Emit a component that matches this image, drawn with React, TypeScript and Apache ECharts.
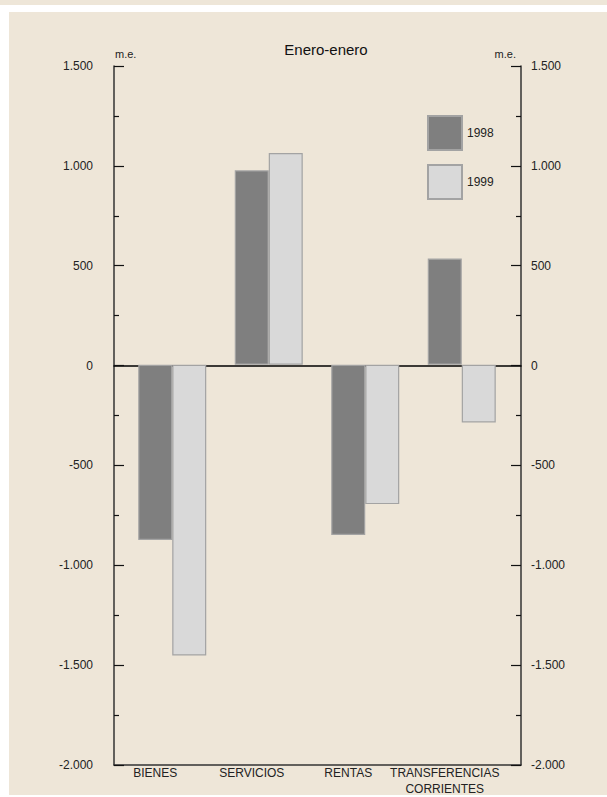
import React, { useEffect, useRef } from "react";
import * as echarts from "echarts";

const categories = ["BIENES", "SERVICIOS", "RENTAS", "TRANSFERENCIAS\nCORRIENTES"];
const seriesNames = ["1998", "1999"];
const values1998 = [-880, 976, -855, 533];
const values1999 = [-1460, 1063, -700, -290];
const yMin = -2000;
const yMax = 1500;
const yInterval = 500;

const FONT = "'Liberation Sans', Arial, Helvetica, sans-serif";
const BG = "#eee6d8";

function fmt(v: number): string {
  const s = Math.abs(v).toString().replace(/\B(?=(\d{3})+(?!\d))/g, ".");
  return (v < 0 ? "-" : "") + s;
}

export default function App() {
  const ref = useRef<HTMLDivElement>(null);
  useEffect(() => {
    if (!ref.current) return;
    const chart = echarts.init(ref.current, undefined, { renderer: "svg" });
    const yCommon = {
      type: "value" as const,
      min: yMin,
      max: yMax,
      interval: yInterval,
      gridIndex: 0,
      splitLine: { show: false },
      axisLine: { show: true, onZero: false, lineStyle: { color: "#333", width: 1.5 } },
      axisTick: { show: true, inside: true, length: 10, lineStyle: { color: "#111", width: 1.2 } },
      minorTick: { show: true, splitNumber: 2, length: 5, lineStyle: { color: "#111", width: 1.2 } },
      name: "m.e.",
      nameLocation: "end" as const,
      nameGap: 7,
    };
    chart.setOption({
      animation: false,
      textStyle: { fontFamily: FONT },
      title: {
        text: "Enero-enero",
        left: 321,
        top: 37,
        textAlign: "center",
        textStyle: { fontFamily: FONT, fontSize: 15, fontWeight: "normal", color: "#111" },
      },
      legend: {
        data: seriesNames,
        orient: "vertical",
        left: 422,
        top: 110,
        itemWidth: 34,
        itemHeight: 34,
        itemGap: 13,
        icon: "rect",
        textStyle: { fontFamily: FONT, fontSize: 12, color: "#222", padding: [0, 0, 24, 0] },
      },
      grid: [
        { left: 114, right: 86, top: 66, bottom: 32 },
        { left: 124, right: 97, top: 66, bottom: 32 },
      ],
      xAxis: [
        {
          type: "value",
          gridIndex: 0,
          min: 0,
          max: 1,
          position: "top",
          axisLine: { show: true, onZero: true, lineStyle: { color: "#000", width: 1.5 } },
          axisTick: { show: false },
          axisLabel: { show: false },
          splitLine: { show: false },
        },
        {
          type: "value",
          gridIndex: 0,
          min: 0,
          max: 1,
          position: "bottom",
          axisLine: { show: true, onZero: false, lineStyle: { color: "#333", width: 1.5 } },
          axisTick: { show: false },
          axisLabel: { show: false },
          splitLine: { show: false },
        },
        {
          type: "category",
          gridIndex: 1,
          data: categories,
          axisLine: { show: false },
          axisTick: { show: false },
          axisLabel: {
            interval: 0,
            fontFamily: FONT,
            fontSize: 12,
            color: "#222",
            margin: 2,
            lineHeight: 16,
            padding: [0, 34, 0, 0],
          },
        },
      ],
      yAxis: [
        {
          ...yCommon,
          position: "left",
          axisLabel: { fontFamily: FONT, fontSize: 12, color: "#222", margin: 21, formatter: (v: number) => fmt(v) },
          nameTextStyle: { fontFamily: FONT, fontSize: 11, color: "#222", align: "left", padding: [0, 0, 0, 1] },
        },
        {
          ...yCommon,
          position: "right",
          axisLabel: { fontFamily: FONT, fontSize: 12, color: "#222", margin: 10, formatter: (v: number) => fmt(v) },
          nameTextStyle: { fontFamily: FONT, fontSize: 11, color: "#222", align: "right", padding: [0, 5, 0, 0] },
        },
        {
          type: "value",
          gridIndex: 1,
          min: yMin,
          max: yMax,
          interval: yInterval,
          show: false,
        },
      ],
      series: [
        {
          name: seriesNames[0],
          type: "bar",
          xAxisIndex: 2,
          yAxisIndex: 2,
          data: values1998,
          barWidth: 34,
          barGap: "0%",
          itemStyle: { color: "#7f7f7f", borderColor: "#a3a3a3", borderWidth: 1.2 },
        },
        {
          name: seriesNames[1],
          type: "bar",
          xAxisIndex: 2,
          yAxisIndex: 2,
          data: values1999,
          barWidth: 34,
          barGap: "0%",
          itemStyle: { color: "#d9d9d9", borderColor: "#a3a3a3", borderWidth: 1.2 },
        },
      ],
    });
    return () => chart.dispose();
  }, []);

  return (
    <div style={{ position: "fixed", left: 0, top: 0, width: 607, height: 797, background: "#fff" }}>
      <div style={{ position: "absolute", left: 0, top: 0, width: 607, height: 5, background: BG }} />
      <div style={{ position: "absolute", left: 9, top: 12, width: 598, height: 783, background: BG }} />
      <div ref={ref} style={{ position: "absolute", left: 0, top: 0, width: 607, height: 797 }} />
    </div>
  );
}
